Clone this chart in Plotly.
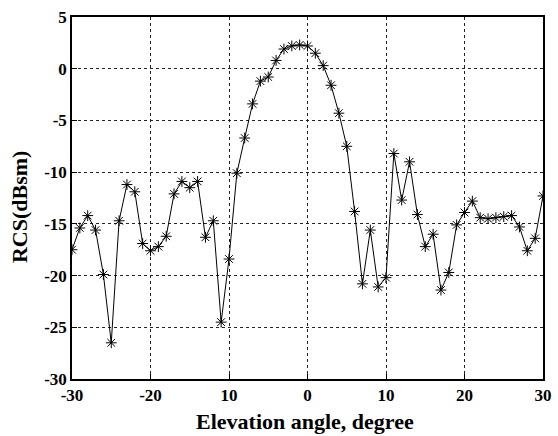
import plotly.graph_objects as go

angles = list(range(-30, 31))
rcs = [-17.5, -15.4, -14.2, -15.6, -19.9, -26.5, -14.7, -11.2, -11.9, -16.9,
       -17.6, -17.2, -16.2, -12.1, -10.9, -11.5, -10.9, -16.3, -14.7, -24.5,
       -18.4, -10.1, -6.7, -3.4, -1.2, -0.8, 0.8, 1.9, 2.2, 2.3,
       2.2, 1.5, 0.3, -1.6, -4.3, -7.5, -13.8, -20.8, -15.6, -21.1,
       -20.2, -8.2, -12.7, -9.0, -14.1, -17.2, -16.0, -21.4, -19.7, -15.1,
       -13.9, -12.8, -14.4, -14.5, -14.4, -14.3, -14.2, -15.3, -17.6, -16.4,
       -12.3]
x_tickvals = [-30, -20, -10, 0, 10, 20, 30]
x_ticktext = ["-30", "-20", "10", "0", "10", "20", "30"]
y_tickvals = [5, 0, -5, -10, -15, -20, -25, -30]
x_title = "Elevation angle, degree"
y_title = "RCS(dBsm)"

font = dict(family="Liberation Serif, Times New Roman, serif", color="black")

fig = go.Figure()
fig.add_trace(go.Scatter(
    x=angles, y=rcs, mode="lines+markers",
    line=dict(color="black", width=1),
    marker=dict(symbol="asterisk-open", size=9, color="black",
                line=dict(color="black", width=1)),
    showlegend=False,
))

axis_common = dict(
    showline=True, linecolor="black", linewidth=1.5, mirror=True,
    ticks="inside", ticklen=5, tickcolor="black",
    showgrid=True, gridcolor="#222222", griddash="3px,3px", gridwidth=1,
    zeroline=False, automargin=False,
    tickfont=dict(size=17, **font),
)

fig.update_layout(
    width=558, height=436,
    margin=dict(l=72, r=15, t=17, b=57, autoexpand=False),
    paper_bgcolor="white", plot_bgcolor="white",
    font=font,
    xaxis=dict(range=[-30, 30], tickmode="array", tickvals=x_tickvals,
               ticktext=[f"<b>{t}</b>" for t in x_ticktext],
               **axis_common),
    yaxis=dict(range=[-30, 5], tickmode="array", tickvals=y_tickvals,
               ticktext=[f"<b>{v}</b>" for v in y_tickvals],
               **axis_common),
    annotations=[
        dict(text=f"<b>{x_title}</b>", xref="paper", yref="paper",
             x=0.4947, y=0, xanchor="center", yanchor="middle", yshift=-42,
             showarrow=False, font=dict(size=22, **font)),
        dict(text=f"<b>{y_title}</b>", xref="paper", yref="paper",
             x=0, y=0.475, xanchor="center", yanchor="middle", xshift=-53,
             textangle=-90, showarrow=False, font=dict(size=22, **font)),
    ],
)

fig.write_html("out.html", config={"displayModeBar": False},
               post_script="document.body.style.margin='0';document.body.style.padding='0';")
